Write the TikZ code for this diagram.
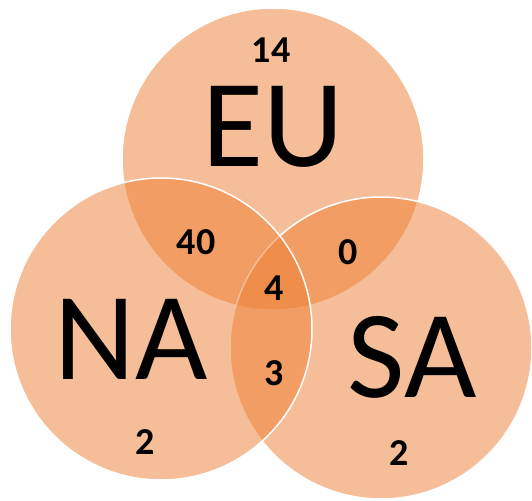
\documentclass[tikz,border=0pt]{standalone}
\usepackage{fontspec}
\setmainfont{Carlito}
\definecolor{vorange}{HTML}{ED7D31}
\begin{document}
\begin{tikzpicture}[x=1pt,y=-1pt,
  setcircle/.style={circle, minimum size=302pt, inner sep=0pt, fill=vorange, fill opacity=0.5, draw=white, line width=1.5pt},
  bigtext/.style={inner sep=0pt, font=\fontsize{125}{130}\selectfont},
  numtext/.style={inner sep=0pt, font=\fontsize{38}{40}\selectfont\bfseries}]
\useasboundingbox (0,0) rectangle (532,500);
\node[setcircle] (eu) at (273,159) {};
\node[setcircle] (sa) at (381,348) {};
\node[setcircle] (na) at (161,329) {};
\node[numtext] (n14) at (271,50) {14};
\node[bigtext] (eulab) at (273,127) {EU};
\node[numtext] (n40) at (196,242) {40};
\node[numtext] (n0) at (348,252) {0};
\node[numtext] (n4) at (274,288) {4};
\node[numtext] (n3) at (274,373) {3};
\node[bigtext] (nalab) at (131,339) {NA};
\node[bigtext] (salab) at (412,357) {SA};
\node[numtext] (n2a) at (145,442) {2};
\node[numtext] (n2b) at (399,453) {2};
\end{tikzpicture}
\end{document}
